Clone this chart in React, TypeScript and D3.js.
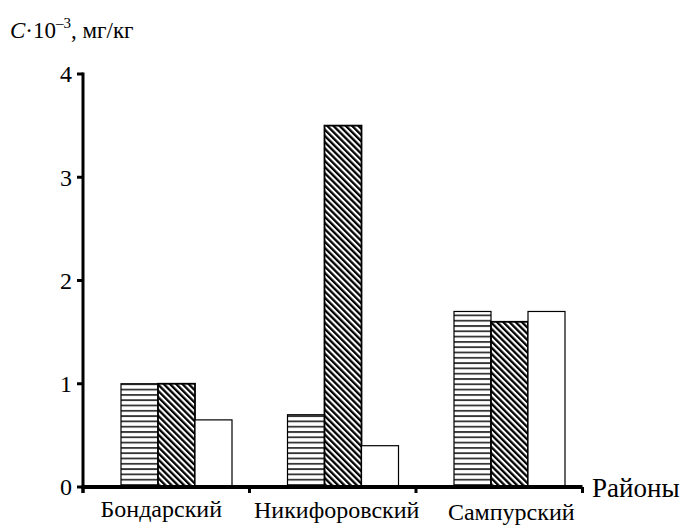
import React, { useEffect, useRef } from 'react';
import * as d3 from 'd3';

// districts and the three sample series (C·10^-3, mg/kg)
const districts = ['Бондарский', 'Никифоровский', 'Сампурский'];
const seriesKeys = ['s1', 's2', 's3'];
const series1 = [1.0, 0.7, 1.7];
const series2 = [1.0, 3.5, 1.6];
const series3 = [0.65, 0.4, 1.7];
const yTicks = [0, 1, 2, 3, 4];

// label nudges (the source figure has them slightly staggered)
const labelDx = [-5, 4, 12];
const labelY = [517, 518, 520];

const App = () => {
    const svgRef = useRef<SVGSVGElement>(null);

    useEffect(() => {
        const width = 682;
        const height = 526;
        const font = "'Liberation Serif', 'DejaVu Serif', serif";

        const svg = d3.select(svgRef.current);
        svg.selectAll('*').remove();
        svg.attr('width', width).attr('height', height)
            .style('font-family', font);

        const defs = svg.append('defs');

        // horizontal stripes
        const hp = defs.append('pattern')
            .attr('id', 'hstripe')
            .attr('patternUnits', 'userSpaceOnUse')
            .attr('width', 8).attr('height', 5.3);
        hp.append('rect').attr('width', 8).attr('height', 5.3).attr('fill', '#fff');
        hp.append('rect')
            .attr('x', 0).attr('y', 1.8).attr('width', 8).attr('height', 1.8)
            .attr('fill', '#333');

        // diagonal stripes "\\\"
        const dp = defs.append('pattern')
            .attr('id', 'dstripe')
            .attr('patternUnits', 'userSpaceOnUse')
            .attr('width', 4.4).attr('height', 4.4)
            .attr('patternTransform', 'rotate(-45)');
        dp.append('rect').attr('width', 4.4).attr('height', 4.4).attr('fill', '#fff');
        dp.append('rect').attr('x', 0).attr('y', 0).attr('width', 2.3).attr('height', 4.4).attr('fill', '#000');

        const x = d3.scaleBand<string>()
            .domain(districts)
            .range([83, 582.5]);

        const xInner = d3.scaleBand<string>()
            .domain(seriesKeys)
            .range([38, 149]);

        const y = d3.scaleLinear()
            .domain([0, 4])
            .range([487, 74]);

        const fills = ['url(#hstripe)', 'url(#dstripe)', '#fff'];
        const strokeW = [1.2, 1.8, 1.2];
        const values = [series1, series2, series3];

        // bars
        districts.forEach((d, i) => {
            const g = svg.append('g').attr('transform', `translate(${x(d)},0)`);
            seriesKeys.forEach((k, j) => {
                const v = values[j][i];
                g.append('rect')
                    .attr('x', xInner(k)!)
                    .attr('y', y(v))
                    .attr('width', xInner.bandwidth())
                    .attr('height', y(0) - y(v))
                    .attr('fill', fills[j])
                    .attr('stroke', '#000')
                    .attr('stroke-width', strokeW[j]);
            });
        });

        // y axis
        svg.append('line')
            .attr('x1', 83).attr('x2', 83)
            .attr('y1', y(4) - 1.5).attr('y2', y(0) + 6)
            .attr('stroke', '#000').attr('stroke-width', 3);

        yTicks.forEach(t => {
            svg.append('line')
                .attr('x1', 77).attr('x2', 83)
                .attr('y1', y(t)).attr('y2', y(t))
                .attr('stroke', '#000').attr('stroke-width', 3);
            svg.append('text')
                .attr('x', 72)
                .attr('y', y(t))
                .attr('dy', '0.35em')
                .attr('text-anchor', 'end')
                .style('font-size', '24px')
                .text(t);
        });

        // x axis
        const [x0, x1] = x.range();
        svg.append('line')
            .attr('x1', x0 - 1.5).attr('x2', x1)
            .attr('y1', y(0)).attr('y2', y(0))
            .attr('stroke', '#000').attr('stroke-width', 4);

        [...districts.map(d => x(d)!), x1].forEach(p => {
            svg.append('line')
                .attr('x1', p).attr('x2', p)
                .attr('y1', y(0)).attr('y2', y(0) + 6)
                .attr('stroke', '#000').attr('stroke-width', 3);
        });

        districts.forEach((d, i) => {
            svg.append('text')
                .attr('x', x(d)! + x.bandwidth() / 2 + labelDx[i])
                .attr('y', labelY[i])
                .attr('text-anchor', 'middle')
                .style('font-size', '24px')
                .text(d);
        });

        svg.append('text')
            .attr('x', 592)
            .attr('y', 497)
            .style('font-size', '27px')
            .text('Районы');

        // y axis title
        const title = svg.append('text')
            .attr('x', 10)
            .attr('y', 38)
            .style('font-size', '23px');
        title.append('tspan').style('font-style', 'italic').text('C');
        title.append('tspan').text('·10');
        title.append('tspan').attr('dy', -10).style('font-size', '15px').text('–3');
        title.append('tspan').attr('dy', 10).text(', мг/кг');
    }, []);

    return (
        <svg ref={svgRef} style={{ position: 'absolute', left: 0, top: 0, background: '#fff' }}></svg>
    );
};

export default App;
